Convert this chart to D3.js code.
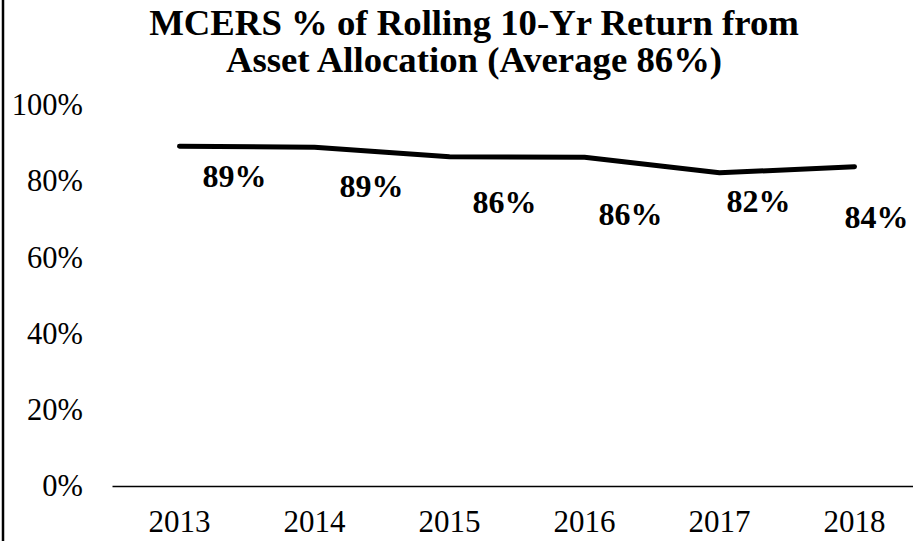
<!DOCTYPE html>
<html><head><meta charset="utf-8">
<script src="https://cdn.jsdelivr.net/npm/d3@7"></script>
<style>
html,body{margin:0;padding:0;background:#fff;}
svg{display:block;}
</style></head>
<body>
<svg id="chart" width="913" height="541"></svg>
<script>
// ---- data ----
const years = ["2013", "2014", "2015", "2016", "2017", "2018"];
const shareFromAllocation = [0.892, 0.889, 0.864, 0.863, 0.822, 0.838];
const yTicks = [0, 0.2, 0.4, 0.6, 0.8, 1.0];
const titleLines = ["MCERS % of Rolling 10-Yr Return from", "Asset Allocation (Average 86%)"];

// ---- layout ----
const svg = d3.select("#chart");
const serif = "'Liberation Serif','Times New Roman',Times,serif";
const x = d3.scaleBand().domain(years).range([112, 922]).paddingInner(0).paddingOuter(0);
const y = d3.scaleLinear().domain([0, 1]).range([486, 105]);

// left frame edge
svg.append("line").attr("x1", 3).attr("x2", 3).attr("y1", 0).attr("y2", 541)
  .attr("stroke", "#000").attr("stroke-width", 2.5);

// title (slightly wide-set, as in the original)
svg.append("g").attr("transform", "translate(474,0) scale(1.05,1)")
  .selectAll("text").data(titleLines).join("text")
  .attr("x", 0).attr("y", (d, i) => 35 + i * 37)
  .attr("text-anchor", "middle")
  .attr("font-family", serif).attr("font-weight", "bold").attr("font-size", 35)
  .attr("fill", "#000").text(d => d);

// y axis labels
const yAxis = d3.axisLeft(y).tickValues(yTicks).tickFormat(d3.format(".0%")).tickSize(0).tickPadding(0);
const gy = svg.append("g").attr("transform", "translate(83,0)").call(yAxis);
gy.select(".domain").remove();
gy.selectAll("text").attr("font-family", serif).attr("font-size", 30.5).attr("fill", "#000");

// x axis
const xAxis = d3.axisBottom(x).tickSize(0).tickSizeOuter(0).tickPadding(0);
const gx = svg.append("g").attr("transform", `translate(0,${y(0)})`).call(xAxis);
gx.select(".domain").attr("stroke", "#000").attr("stroke-width", 1.6);
gx.selectAll("text").attr("font-family", serif).attr("font-size", 31).attr("fill", "#000")
  .attr("dy", null).attr("y", 46);

// line
const pts = years.map((yr, i) => ({yr, v: shareFromAllocation[i]}));
const line = d3.line().x(d => x(d.yr) + x.bandwidth() / 2).y(d => y(d.v));
svg.append("path").datum(pts).attr("d", line)
  .attr("fill", "none").attr("stroke", "#000").attr("stroke-width", 5)
  .attr("stroke-linejoin", "round").attr("stroke-linecap", "round");

// data labels (manually nudged as in the original)
const labelNudge = [[55, 41], [57, 50], [55, 56], [46, 68], [39, 39], [22, 61]];
svg.append("g").selectAll("text").data(pts).join("text")
  .attr("x", (d, i) => x(d.yr) + x.bandwidth() / 2 + labelNudge[i][0])
  .attr("y", (d, i) => y(d.v) + labelNudge[i][1])
  .attr("text-anchor", "middle")
  .attr("font-family", serif).attr("font-weight", "bold").attr("font-size", 32)
  .attr("fill", "#000")
  .text(d => d3.format(".0%")(d.v));
</script>
</body></html>
